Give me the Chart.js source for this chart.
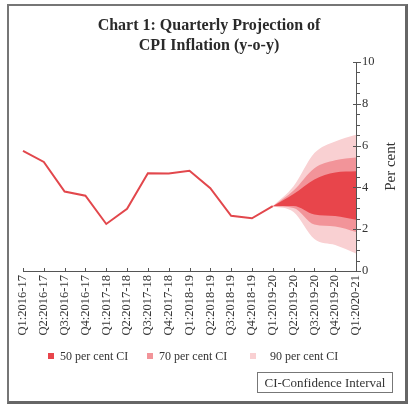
<!DOCTYPE html>
<html>
<head>
<meta charset="utf-8">
<script src="https://cdn.jsdelivr.net/npm/chart.js@4/dist/chart.umd.min.js"></script>
<style>
  html, body { margin: 0; padding: 0; background: #fff; }
  #wrap { position: relative; width: 418px; height: 413px; overflow: hidden; }
  #chart { position: absolute; left: 0; top: 0; }
  .frame {
    position: absolute; left: 7px; top: 4px; width: 396px; height: 395px;
    border-top: 2px solid #767676; border-left: 2px solid #767676;
    border-right: 3px solid #666; border-bottom: 3px solid #666;
  }
  .title {
    position: absolute; left: 0; width: 418px; top: 15px; text-align: center;
    font: bold 16px "Liberation Serif", serif; line-height: 20px; color: #2a2a2a;
  }
  .legend { position: absolute; top: 349px; left: 0; font: 12px "Liberation Serif", serif; color: #333; }
  .legend span.item { position: absolute; white-space: nowrap; line-height: 14px; }
  .legend i { position: absolute; top: 4px; width: 6px; height: 6px; }
  .note {
    position: absolute; left: 257px; top: 372px; width: 134px; height: 19px;
    border: 1px solid #777; text-align: center;
    font: 13px "Liberation Serif", serif; line-height: 19px; color: #333;
  }
</style>
</head>
<body>
<div id="wrap">
  <canvas id="chart" width="418" height="413"></canvas>
  <div class="frame"></div>
  <div class="title">Chart 1: Quarterly Projection of<br>CPI Inflation (y-o-y)</div>
  <div class="legend" id="legend"></div>
  <div class="note">CI-Confidence Interval</div>
</div>
<script>
  // quarters on the x axis
  const quarters = [
    'Q1:2016-17', 'Q2:2016-17', 'Q3:2016-17', 'Q4:2016-17',
    'Q1:2017-18', 'Q2:2017-18', 'Q3:2017-18', 'Q4:2017-18',
    'Q1:2018-19', 'Q2:2018-19', 'Q3:2018-19', 'Q4:2018-19',
    'Q1:2019-20', 'Q2:2019-20', 'Q3:2019-20', 'Q4:2019-20',
    'Q1:2020-21'
  ];

  // actual CPI inflation, per cent
  const cpiActual = [5.75, 5.22, 3.8, 3.6, 2.25, 2.98, 4.68, 4.67, 4.8, 3.96, 2.64, 2.52, 3.1,
                     null, null, null, null];

  // fan chart bounds
  const _n = [null, null, null, null, null, null, null, null, null, null, null, null];
  const ci90Upper = _n.concat([3.1, 4.05, 5.64, 6.2, 6.52]);
  const ci70Upper = _n.concat([3.1, 3.85, 4.92, 5.3, 5.43]);
  const ci50Upper = _n.concat([3.1, 3.68, 4.38, 4.71, 4.77]);
  const ci50Lower = _n.concat([3.1, 3.11, 2.7, 2.63, 2.45]);
  const ci70Lower = _n.concat([3.1, 3.02, 2.22, 2.13, 1.87]);
  const ci90Lower = _n.concat([3.1, 2.82, 1.53, 1.24, 0.84]);

  const yTicks = [0, 2, 4, 6, 8, 10];

  const ciLabels = ['50 per cent CI', '70 per cent CI', '90 per cent CI'];
  const ciColors = ['#e8454b', '#f29499', '#f9d0d2'];
  const legendX  = [48, 147, 250];

  const lineColor = '#e2474c';
  const axisColor = '#555';
  const textColor = '#333';

  // html legend
  const legendEl = document.getElementById('legend');
  ciLabels.forEach((lab, i) => {
    const s = document.createElement('span');
    s.className = 'item';
    s.style.left = legendX[i] + 'px';
    s.innerHTML = '<i style="left:0;background:' + ciColors[i] + '"></i>' +
      '<b style="font-weight:normal;margin-left:' + (i === 2 ? 20 : 12) + 'px">' + lab + '</b>';
    legendEl.appendChild(s);
  });

  function band(data, color, fill, order) {
    return {
      data, fill, order,
      backgroundColor: color,
      borderWidth: 0,
      pointRadius: 0,
      cubicInterpolationMode: 'monotone',
    };
  }

  const datasets = [
    {
      label: 'CPI', data: cpiActual, order: 0,
      borderColor: lineColor, borderWidth: 2, pointRadius: 0,
      fill: false, tension: 0,
    },
    band(ci50Upper, ciColors[0], '+1', 1),
    band(ci50Lower, ciColors[0], false, 1),
    band(ci70Upper, ciColors[1], '+1', 2),
    band(ci70Lower, ciColors[1], false, 2),
    band(ci90Upper, ciColors[2], '+1', 3),
    band(ci90Lower, ciColors[2], false, 3),
  ];

  // tick marks and the rotated axis title
  const axisMarks = {
    id: 'axisMarks',
    afterDraw(chart) {
      const ctx = chart.ctx;
      const ys = chart.scales.y;
      const xs = chart.scales.x;
      ctx.save();
      ctx.strokeStyle = axisColor;
      ctx.lineWidth = 1;
      ctx.beginPath();
      for (let v = 0; v <= 10; v += 0.5) {
        const py = Math.round(ys.getPixelForValue(v)) + 0.5;
        const major = yTicks.includes(v);
        ctx.moveTo(ys.left - (major ? 3 : 0), py);
        ctx.lineTo(ys.left + (major ? 5 : 4), py);
      }
      quarters.forEach((q, i) => {
        const px = Math.round(xs.getPixelForTick(i)) + 0.5;
        ctx.moveTo(px, xs.top);
        ctx.lineTo(px, xs.top - 3);
      });
      ctx.stroke();

      ctx.fillStyle = textColor;
      ctx.font = '15px "Liberation Serif", serif';
      ctx.textAlign = 'center';
      ctx.textBaseline = 'middle';
      ctx.translate(391, (chart.chartArea.top + chart.chartArea.bottom) / 2);
      ctx.rotate(-Math.PI / 2);
      ctx.fillText('Per cent', 0, 0);
      ctx.restore();
    }
  };

  new Chart(document.getElementById('chart'), {
    type: 'line',
    data: { labels: quarters, datasets },
    plugins: [axisMarks],
    options: {
      responsive: false,
      animation: false,
      layout: { padding: { left: 23, top: 62, right: 0, bottom: 0 } },
      plugins: {
        legend: { display: false },
        tooltip: { enabled: false },
      },
      scales: {
        x: {
          offset: false,
          grid: { display: false, drawTicks: false },
          border: { display: true, color: axisColor, width: 1 },
          ticks: {
            autoSkip: false, maxRotation: 90, minRotation: 90, padding: 4,
            color: textColor, font: { family: '"Liberation Serif", serif', size: 12.5 },
          },
          afterFit: s => { s.height = 142; },
        },
        y: {
          position: 'right',
          min: 0, max: 10,
          grid: { display: false, drawTicks: false },
          border: { display: true, color: axisColor, width: 1 },
          ticks: {
            stepSize: 2, padding: 6,
            color: textColor, font: { family: '"Liberation Serif", serif', size: 12.5 },
          },
          afterFit: s => { s.width = 62; },
        },
      },
    },
  });
</script>
</body>
</html>
